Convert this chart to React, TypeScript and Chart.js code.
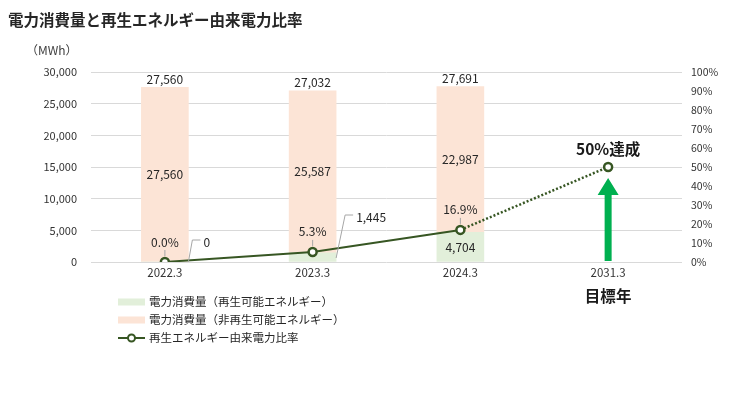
import React, { useEffect, useRef } from 'react';
import { Chart, registerables } from 'chart.js';

Chart.register(...registerables);

const categories = ['2022.3', '2023.3', '2024.3', '2031.3'];
const renewable = [0, 1445, 4704, null];
const nonRenewable = [27560, 25587, 22987, null];
const totals = [27560, 27032, 27691, null];
const ratio = [0, 5.3, 16.9, 50];
const ratioLabels = ['0.0%', '5.3%', '16.9%', ''];
const legendLabels = [
  '電力消費量（再生可能エネルギー）',
  '電力消費量（非再生可能エネルギー）',
  '再生エネルギー由来電力比率',
];
const titleText = '電力消費量と再生エネルギー由来電力比率';
const unitText = '（MWh）';
const targetText = '50%達成';
const targetYearText = '目標年';

const FONT = "'Noto Sans CJK JP', 'Noto Sans', sans-serif";
const GREEN_BAR = '#E2EFDA';
const PEACH_BAR = '#FCE4D6';
const LINE_COLOR = '#375623';
const ARROW_COLOR = '#00B050';
const TEXT = '#262626';

const fmt = (v: number) => v.toLocaleString('en-US');

const overlayPlugin = {
  id: 'overlay',
  afterDatasetsDraw(chart: any) {
    const ctx = chart.ctx;
    const y = chart.scales.y;
    const metaG = chart.getDatasetMeta(0);
    const metaP = chart.getDatasetMeta(1);
    const metaL = chart.getDatasetMeta(2);
    ctx.save();
    ctx.fillStyle = TEXT;
    ctx.textAlign = 'center';
    ctx.textBaseline = 'middle';
    ctx.font = `12px ${FONT}`;
    // totals and non-renewable labels
    for (let i = 0; i < categories.length; i++) {
      const t = totals[i];
      if (t == null) continue;
      const bar = metaP.data[i];
      ctx.fillText(fmt(t), bar.x, y.getPixelForValue(t) - 8);
      const g = renewable[i] ?? 0;
      const n = nonRenewable[i] ?? 0;
      ctx.fillText(fmt(n), bar.x, y.getPixelForValue(g + n / 2));
    }
    // renewable labels
    const y0 = y.getPixelForValue(0);
    ctx.strokeStyle = '#A6A6A6';
    ctx.lineWidth = 1;
    const leaders: Record<number, number[]> = {
      0: [0, 0, 4, -22, 12, -22],
      1: [0, -4, 9, -47, 17, -47],
    };
    for (let i = 0; i < categories.length; i++) {
      const v = renewable[i];
      if (v == null) continue;
      const bar = metaG.data[i];
      const right = bar.x + bar.width / 2;
      const L = leaders[i];
      if (L) {
        ctx.beginPath();
        ctx.moveTo(right + L[0], y0 + L[1]);
        ctx.lineTo(right + L[2], y0 + L[3]);
        ctx.lineTo(right + L[4], y0 + L[5]);
        ctx.stroke();
        ctx.textAlign = 'left';
        ctx.fillText(fmt(v), right + L[4] + 3, y0 + L[5] + 2);
      } else {
        ctx.textAlign = 'center';
        ctx.fillText(fmt(v), bar.x, y.getPixelForValue(v / 2));
      }
    }
    // ratio labels
    ctx.textAlign = 'center';
    for (let i = 0; i < categories.length; i++) {
      if (!ratioLabels[i]) continue;
      const p = metaL.data[i];
      ctx.beginPath();
      ctx.moveTo(p.x, p.y - 6);
      ctx.lineTo(p.x, p.y - 12);
      ctx.stroke();
      ctx.fillText(ratioLabels[i], p.x, p.y - 20);
    }
    ctx.restore();
  },
  afterDraw(chart: any) {
    const ctx = chart.ctx;
    const y1 = chart.scales.y1;
    const x = chart.scales.x;
    const area = chart.chartArea;
    ctx.save();
    // title
    ctx.fillStyle = TEXT;
    ctx.textBaseline = 'middle';
    ctx.textAlign = 'left';
    ctx.font = `bold 15.5px ${FONT}`;
    ctx.fillText(titleText, 8, 20);
    // unit
    ctx.font = `12px ${FONT}`;
    ctx.fillStyle = '#404040';
    ctx.fillText(unitText, 26, 50);
    // target arrow
    const tx = x.getPixelForValue(3);
    const ty = y1.getPixelForValue(ratio[3]);
    const headTop = ty + 11;
    const headBase = ty + 28;
    ctx.fillStyle = ARROW_COLOR;
    ctx.beginPath();
    ctx.moveTo(tx, headTop);
    ctx.lineTo(tx + 10.5, headBase);
    ctx.lineTo(tx + 3.5, headBase);
    ctx.lineTo(tx + 3.5, area.bottom - 1);
    ctx.lineTo(tx - 3.5, area.bottom - 1);
    ctx.lineTo(tx - 3.5, headBase);
    ctx.lineTo(tx - 10.5, headBase);
    ctx.closePath();
    ctx.fill();
    // target texts
    ctx.fillStyle = '#1a1a1a';
    ctx.textAlign = 'center';
    ctx.font = `bold 15.5px ${FONT}`;
    ctx.fillText(targetText, tx, ty - 18);
    ctx.fillText(targetYearText, tx, area.bottom + 34);
    // legend
    ctx.textAlign = 'left';
    ctx.font = `11.5px ${FONT}`;
    const lx = 118;
    const ly = [302, 320, 338];
    ctx.fillStyle = GREEN_BAR;
    ctx.fillRect(lx, ly[0] - 3.5, 27, 7);
    ctx.fillStyle = PEACH_BAR;
    ctx.fillRect(lx, ly[1] - 3.5, 27, 7);
    ctx.strokeStyle = LINE_COLOR;
    ctx.lineWidth = 2;
    ctx.beginPath();
    ctx.moveTo(lx, ly[2]);
    ctx.lineTo(lx + 27, ly[2]);
    ctx.stroke();
    ctx.beginPath();
    ctx.arc(lx + 13.5, ly[2], 3.5, 0, Math.PI * 2);
    ctx.fillStyle = '#ffffff';
    ctx.fill();
    ctx.stroke();
    ctx.fillStyle = TEXT;
    legendLabels.forEach((t, i) => ctx.fillText(t, lx + 31, ly[i]));
    ctx.restore();
  },
};

export default function App() {
  const ref = useRef<HTMLCanvasElement | null>(null);
  useEffect(() => {
    document.body.style.margin = '0';
    if (!ref.current) return;
    const chart = new Chart(ref.current, {
      type: 'bar',
      data: {
        labels: categories,
        datasets: [
          {
            type: 'bar',
            label: legendLabels[0],
            data: renewable,
            backgroundColor: GREEN_BAR,
            yAxisID: 'y',
            stack: 's',
            order: 1,
            barThickness: 47,
          } as any,
          {
            type: 'bar',
            label: legendLabels[1],
            data: nonRenewable,
            backgroundColor: PEACH_BAR,
            yAxisID: 'y',
            stack: 's',
            order: 1,
            barThickness: 47,
          } as any,
          {
            type: 'line',
            label: legendLabels[2],
            data: ratio,
            yAxisID: 'y1',
            borderColor: LINE_COLOR,
            borderWidth: 2,
            pointRadius: 4,
            pointBorderWidth: 2.5,
            pointBackgroundColor: '#ffffff',
            pointBorderColor: LINE_COLOR,
            order: 0,
            segment: {
              borderDash: (c: any) => (c.p0DataIndex === 2 ? [2, 2] : undefined),
              borderWidth: (c: any) => (c.p0DataIndex === 2 ? 2.5 : 2),
            },
          } as any,
        ],
      },
      options: {
        responsive: false,
        animation: false,
        layout: { padding: { top: 72, left: 0, right: 0, bottom: 0 } },
        plugins: {
          legend: { display: false },
          tooltip: { enabled: false },
          title: { display: false },
        },
        scales: {
          x: {
            stacked: true,
            grid: { display: false, drawTicks: false },
            border: { display: false },
            ticks: { font: { family: FONT, size: 11.5 }, color: '#333', padding: 4 },
            afterFit: (s: any) => {
              s.height = 131;
            },
          },
          y: {
            stacked: true,
            min: 0,
            max: 30000,
            ticks: {
              stepSize: 5000,
              font: { family: FONT, size: 11 },
              color: '#333',
              padding: 14,
              callback: (v: any) => fmt(Number(v)),
            },
            grid: { color: '#D9D9D9', drawTicks: false },
            border: { display: false },
            afterFit: (s: any) => {
              s.width = 91;
            },
          },
          y1: {
            position: 'right',
            min: 0,
            max: 100,
            stacked: false,
            ticks: {
              stepSize: 10,
              font: { family: FONT, size: 10.5 },
              color: '#333',
              padding: 9,
              callback: (v: any) => `${v}%`,
            },
            grid: { display: false, drawTicks: false },
            border: { display: false },
            afterFit: (s: any) => {
              s.width = 63;
            },
          },
        },
      } as any,
      plugins: [overlayPlugin],
    });
    return () => chart.destroy();
  }, []);
  return (
    <div style={{ width: 745, height: 393, background: '#fff' }}>
      <canvas ref={ref} width={745} height={393} style={{ display: 'block' }} />
    </div>
  );
}
